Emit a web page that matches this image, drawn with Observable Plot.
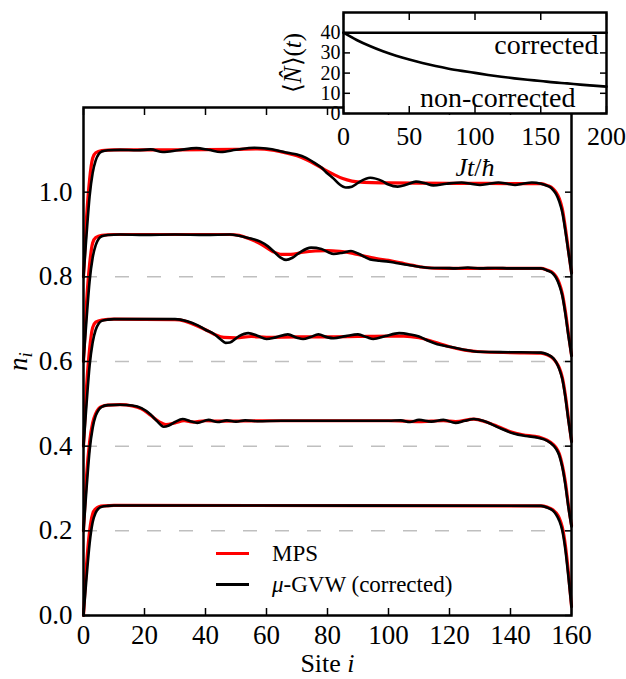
<!DOCTYPE html>
<html><head><meta charset="utf-8">
<script src="https://cdn.jsdelivr.net/npm/d3@7"></script>
<script src="https://cdn.jsdelivr.net/npm/@observablehq/plot@0.6"></script>
<style>
body{margin:0;background:#fff;}
#fig{position:relative;width:626px;height:679px;font-family:"Liberation Serif",serif;}
#fig svg{position:absolute;overflow:visible;}
#legend{position:absolute;left:216px;top:538px;font-size:23px;color:#000;line-height:31px;}
#legend .row{display:flex;align-items:center;}
#legend .sw{width:33px;height:3px;margin-right:23px;}
</style></head><body><div id="fig"></div>
<script>
// ---------- data ----------
const xTicks = [0, 20, 40, 60, 80, 100, 120, 140, 160];
const yTicks = [0, 0.2, 0.4, 0.6, 0.8, 1.0];
const refLevels = [0.2, 0.4, 0.6, 0.8];

const mps0 = [[0,0],[1,0.12],[2,0.2],[3,0.24],[4,0.252],[5,0.257],[7,0.259],[10,0.26],[150,0.259],[152,0.256],[154,0.249],[155,0.242],[156,0.23],[157,0.208],[158,0.165],[159,0.1],[160,0.022]];
const gvw0 = [[0,0],[1,0.09],[2,0.17],[3,0.22],[4,0.243],[5,0.253],[6,0.257],[8,0.259],[10,0.26],[150,0.259],[152,0.255],[154,0.247],[155,0.238],[156,0.224],[157,0.2],[158,0.155],[159,0.09],[160,0.02]];

const mps1 = [[0,0.2],[1,0.33],[2,0.41],[3,0.455],[4,0.477],[5,0.489],[6,0.494],[8,0.497],[12,0.498],[16,0.495],[19,0.488],[22,0.473],[25,0.457],[27,0.451],[30,0.455],[33,0.46],[36,0.457],[40,0.46],[45,0.459],[60,0.46],[100,0.46],[110,0.458],[118,0.46],[122,0.458],[128,0.464],[132,0.457],[136,0.446],[140,0.434],[144,0.427],[148,0.423],[150,0.42],[152,0.414],[154,0.404],[155,0.396],[156,0.382],[157,0.355],[158,0.315],[159,0.26],[160,0.213]];
const gvw1 = [[0,0.2],[1,0.3],[2,0.39],[3,0.443],[4,0.472],[5,0.486],[6,0.493],[8,0.497],[12,0.498],[16,0.496],[19,0.49],[22,0.475],[24,0.46],[26.3,0.446],[28,0.449],[30,0.457],[32.5,0.464],[35,0.459],[37.3,0.455],[41,0.462],[44,0.457],[47,0.461],[50,0.458],[53,0.461],[57,0.459],[65,0.46],[100,0.46],[104,0.461],[107,0.457],[110,0.462],[114,0.458],[118,0.462],[122,0.455],[125,0.46],[128,0.464],[131,0.46],[134,0.451],[137,0.441],[141,0.43],[145,0.424],[149,0.42],[151,0.416],[153,0.408],[155,0.393],[156,0.378],[157,0.35],[158,0.308],[159,0.255],[160,0.21]];

const mps2 = [[0,0.4],[1,0.54],[2,0.63],[3,0.68],[4,0.693],[6,0.698],[10,0.7],[30,0.699],[33,0.696],[36,0.688],[40,0.675],[43,0.664],[46,0.657],[50,0.656],[55,0.659],[60,0.657],[70,0.658],[80,0.658],[90,0.659],[100,0.66],[105,0.66],[110,0.656],[115,0.646],[120,0.635],[125,0.627],[130,0.623],[140,0.621],[150,0.62],[152,0.616],[154,0.607],[155,0.598],[156,0.585],[157,0.562],[158,0.52],[159,0.465],[160,0.412]];
const gvw2 = [[0,0.4],[1,0.5],[2,0.59],[3,0.645],[4,0.675],[5,0.69],[6,0.696],[8,0.699],[10,0.7],[30,0.7],[34,0.695],[37.3,0.686],[40,0.675],[42.8,0.665],[45,0.652],[46.6,0.644],[48,0.645],[51,0.66],[54,0.667],[57,0.661],[60,0.653],[63,0.657],[67,0.664],[70,0.656],[72,0.653],[74.5,0.658],[77,0.664],[80,0.657],[82,0.655],[86,0.66],[90,0.664],[93,0.657],[95,0.653],[99,0.66],[103.5,0.667],[107,0.664],[110,0.659],[113,0.649],[116,0.641],[120,0.635],[124,0.629],[130,0.623],[140,0.622],[150,0.621],[152,0.617],[154,0.608],[155,0.598],[156,0.582],[157,0.558],[158,0.515],[159,0.46],[160,0.41]];

const mps3 = [[0,0.6],[1,0.74],[2,0.83],[3,0.88],[4,0.893],[6,0.898],[10,0.9],[30,0.9],[48,0.9],[51,0.898],[54,0.891],[58,0.878],[62,0.86],[65,0.853],[68,0.853],[72,0.858],[76,0.861],[80,0.862],[84,0.86],[88,0.856],[92,0.849],[96,0.843],[100,0.839],[104,0.833],[108,0.827],[112,0.822],[118,0.82],[130,0.82],[150,0.82],[152,0.816],[154,0.809],[155,0.8],[156,0.785],[157,0.76],[158,0.718],[159,0.665],[160,0.615]];
const gvw3 = [[0,0.6],[1,0.7],[2,0.79],[3,0.845],[4,0.875],[5,0.89],[6,0.896],[8,0.899],[12,0.9],[20,0.899],[30,0.9],[40,0.899],[48,0.9],[51,0.897],[54,0.892],[58,0.883],[60.5,0.872],[62.5,0.859],[64.5,0.846],[66.4,0.84],[68.5,0.845],[71,0.858],[74.6,0.869],[78,0.866],[82,0.854],[85,0.857],[87.7,0.861],[90,0.855],[94,0.841],[97,0.838],[100,0.836],[103,0.832],[106.5,0.828],[110,0.824],[114,0.821],[118,0.821],[122,0.82],[126,0.822],[130,0.82],[135,0.821],[140,0.82],[150,0.82],[152,0.815],[154,0.807],[155,0.797],[156,0.78],[157,0.755],[158,0.712],[159,0.66],[160,0.613]];

const mps4 = [[0,0.8],[1,0.94],[2,1.03],[3,1.08],[4,1.093],[6,1.098],[10,1.1],[30,1.1],[50,1.101],[57,1.102],[62,1.099],[66,1.093],[70,1.086],[73,1.077],[76,1.066],[79,1.053],[82,1.042],[85,1.032],[88,1.026],[92,1.023],[100,1.022],[120,1.021],[150,1.02],[152,1.016],[154,1.008],[155,0.999],[156,0.985],[157,0.96],[158,0.915],[159,0.862],[160,0.81]];
const gvw4 = [[0,0.8],[1,0.9],[2,0.99],[3,1.045],[4,1.075],[5,1.09],[6,1.096],[8,1.099],[12,1.1],[17.7,1.099],[22,1.101],[26,1.095],[31,1.099],[37,1.104],[41,1.1],[45,1.095],[50,1.1],[56,1.105],[60,1.103],[64,1.098],[67,1.093],[70,1.089],[73,1.081],[75.6,1.07],[78,1.058],[80,1.044],[82,1.032],[84,1.018],[86,1.011],[88,1.013],[90,1.022],[94,1.034],[98,1.026],[100,1.018],[103,1.013],[106,1.018],[109,1.025],[112,1.021],[114.7,1.016],[119,1.02],[124,1.023],[127,1.02],[130,1.017],[133,1.02],[136,1.023],[139,1.02],[141.5,1.017],[144,1.02],[147,1.023],[150,1.02],[152,1.015],[153,1.012],[154,1.005],[155,0.995],[156,0.978],[157,0.952],[158,0.908],[159,0.858],[160,0.808]];

// inset: total particle number vs time
const insetT = [0,10,20,30,40,50,60,70,80,90,100,110,120,130,140,150,160,170,180,190,200];
const nCorrected = [40,40,40,40,40,40,40,40,40,40,40,40,40,40,40,40,40,40,40,40,40];
const nNonCorrected = [40,36.4,33.4,30.8,28.6,26.7,25.0,23.5,22.2,21.1,20.1,19.1,18.2,17.4,16.7,16.1,15.4,14.9,14.3,13.8,13.3];
const insetXTicks = [0,50,100,150,200];
const insetYTicks = [0,10,20,30,40];

// ---------- drawing ----------
const mpsSeries = [mps0, mps1, mps2, mps3, mps4];
const gvwSeries = [gvw0, gvw1, gvw2, gvw3, gvw4];
const font = {fontFamily: "'Liberation Serif', serif", fontSize: "27px", color: "#000", background: "transparent", overflow: "visible"};
const blank = () => "";

const lineOpts = (stroke, w) => ({x: d => d[0], y: d => d[1], stroke, strokeWidth: w, curve: "monotone-x", strokeLinejoin: "round"});

const main = Plot.plot({
  width: 626, height: 679,
  marginLeft: 83, marginRight: 55, marginTop: 107, marginBottom: 64,
  x: {domain: [0, 160]},
  y: {domain: [0, 1.2]},
  style: font,
  marks: [
    Plot.ruleY(refLevels, {stroke: "#bfbfbf", strokeWidth: 1.5, strokeDasharray: "14,18"}),
    ...mpsSeries.map(s => Plot.line(s, lineOpts("#ff0000", 3.2))),
    ...gvwSeries.map(s => Plot.line(s, lineOpts("#000000", 2.6))),
    Plot.axisX({ticks: xTicks, anchor: "bottom", tickSize: -7, tickPadding: 16, strokeWidth: 1.5, label: "Site i", labelAnchor: "center", labelOffset: 56, labelArrow: "none"}),
    Plot.axisX({ticks: xTicks, anchor: "top", tickSize: -7, strokeWidth: 1.5, tickFormat: blank, label: null}),
    Plot.axisY({ticks: yTicks, anchor: "left", tickSize: -7, tickPadding: 18, strokeWidth: 1.5, tickFormat: d3.format(".1f"), label: "ni", labelAnchor: "center", labelOffset: 76, labelArrow: "none"}),
    Plot.axisY({ticks: yTicks, anchor: "right", tickSize: -7, strokeWidth: 1.5, tickFormat: blank, label: null}),
    Plot.frame({stroke: "#000", strokeWidth: 2.5})
  ]
});

const inset = Plot.plot({
  width: 356, height: 190,
  marginLeft: 73, marginRight: 20, marginTop: 12, marginBottom: 77,
  x: {domain: [0, 200]},
  y: {domain: [0, 50]},
  style: {...font, fontSize: "25px"},
  marks: [
    Plot.frame({fill: "#fff", stroke: null}),
    Plot.line(insetT, {x: d => d, y: (d, i) => nCorrected[i], stroke: "#000", strokeWidth: 2.6}),
    Plot.line(insetT, {x: d => d, y: (d, i) => nNonCorrected[i], stroke: "#000", strokeWidth: 2.6, curve: "monotone-x"}),
    Plot.text(["corrected"], {frameAnchor: "top-right", dx: -8, dy: 22, textAnchor: "end", fontSize: 28}),
    Plot.text(["non-corrected"], {frameAnchor: "bottom-right", dx: -31, dy: -7, textAnchor: "end", fontSize: 28}),
    Plot.axisX({ticks: insetXTicks, anchor: "bottom", tickSize: -7, tickPadding: 20, strokeWidth: 1.5, fontSize: 26, label: "Jt/ħ", labelAnchor: "center", labelOffset: 62, labelArrow: "none"}),
    Plot.axisX({ticks: insetXTicks, anchor: "top", tickSize: -7, strokeWidth: 1.5, tickFormat: blank, label: null}),
    Plot.axisY({ticks: insetYTicks, anchor: "left", tickSize: -7, tickPadding: 10, strokeWidth: 1.5, fontSize: 20, label: "⟨N̂⟩(t)", labelAnchor: "center", labelOffset: 60, labelArrow: "none"}),
    Plot.axisY({ticks: insetYTicks, anchor: "right", tickSize: -7, strokeWidth: 1.5, tickFormat: blank, label: null}),
    Plot.frame({stroke: "#000", strokeWidth: 2.5})
  ]
});

// styled axis labels (italic symbols, subscript)
function restyle(svg, aria, parts, size) {
  d3.select(svg).selectAll(`g[aria-label="${aria}"] text`).each(function () {
    const t = d3.select(this);
    t.text(null);
    if (size) t.attr("font-size", size);
    parts.forEach(p => {
      const s = t.append("tspan").text(p.text);
      if (p.italic) s.attr("font-style", "italic");
      if (p.size) s.attr("font-size", p.size);
      if (p.dy) s.attr("dy", p.dy);
    });
  });
}
restyle(main, "x-axis label", [{text: "Site "}, {text: "i", italic: true}], 26);
restyle(main, "y-axis label", [{text: "n", italic: true}, {text: "i", italic: true, size: "0.7em", dy: "0.3em"}]);
restyle(inset, "x-axis label", [{text: "Jt", italic: true}, {text: "/"}, {text: "ħ", italic: true}], 26);
restyle(inset, "y-axis label", [{text: "⟨"}, {text: "N̂", italic: true}, {text: "⟩("}, {text: "t", italic: true}, {text: ")"}], 25);

const fig = document.getElementById("fig");
main.style.left = "0px"; main.style.top = "0px";
inset.style.left = "270px"; inset.style.top = "0px";
fig.appendChild(main);
fig.appendChild(inset);

const legend = document.createElement("div");
legend.id = "legend";
legend.innerHTML =
  '<div class="row"><div class="sw" style="background:#ff0000"></div><span>MPS</span></div>' +
  '<div class="row"><div class="sw" style="background:#000"></div><span><i>μ</i>-GVW (corrected)</span></div>';
fig.appendChild(legend);
</script>
</body></html>
